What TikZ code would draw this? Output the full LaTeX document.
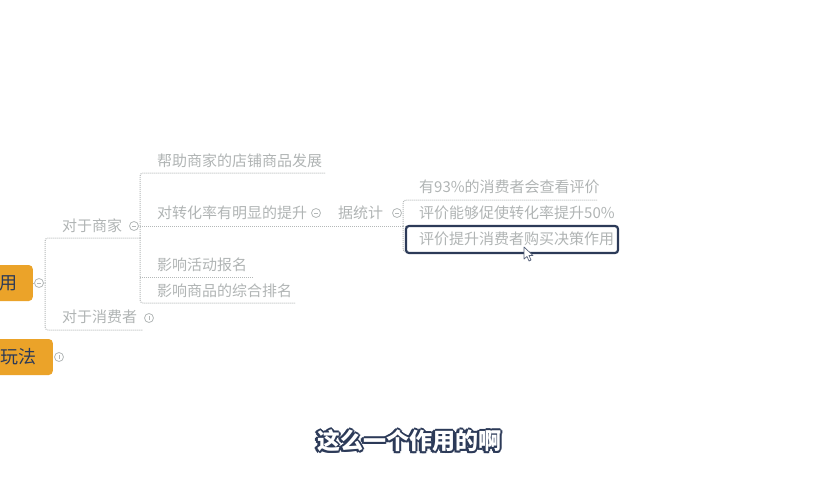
\documentclass[tikz,border=0pt]{standalone}
\usepackage{fontspec}
\usetikzlibrary{positioning,calc}
\newfontfamily\cjk{Noto Sans CJK SC}
\definecolor{mmOrange}{HTML}{EBA329}
\definecolor{mmNavy}{HTML}{2C3A58}
\definecolor{mmText}{HTML}{B0B4B4}
\definecolor{mmLine}{HTML}{B4B8B8}
\tikzset{
  topic/.style={font=\cjk\fontsize{15}{17}\selectfont, text=mmText, inner sep=0pt,
    text height=1.12em, text depth=0em, anchor=west},
  rootbox/.style={fill=mmOrange, rounded corners=4pt, font=\cjk\fontsize{18}{20}\selectfont,
    text=mmNavy, minimum height=36pt, text width=60pt, align=right, inner xsep=15pt, anchor=east},
  branch/.style={draw=mmLine, line width=1pt, densely dotted, rounded corners=3pt},
  fold/.style={circle, draw=mmLine, line width=0.8pt, minimum size=9pt, inner sep=0pt, fill=white},
  foldminus/.style={fold, path picture={
    \draw[mmLine, line width=0.8pt] ([xshift=-2.2pt]path picture bounding box.center) -- ([xshift=2.2pt]path picture bounding box.center);}},
  foldplus/.style={foldminus, path picture={
    \draw[mmLine, line width=0.8pt] ([yshift=-2.2pt]path picture bounding box.center) -- ([yshift=2.2pt]path picture bounding box.center);}},
  selframe/.style={draw=mmNavy, line width=2.2pt, rounded corners=3pt, fill=white},
  caption/.style={font=\cjk\bfseries\fontsize{23}{25}\selectfont}
}
\begin{document}
\begin{tikzpicture}[x=1pt, y=-1pt]
  \useasboundingbox (0,0) rectangle (820,480);
  \clip (0,0) rectangle (820,480);

  % root topics
  \node[rootbox] (use) at (33,283) {用};
  \node[rootbox, inner xsep=16pt] (play) at (53,357) {玩法};

  % branch lines
  \draw[branch] (45,283) |- (140,238);
  \draw[branch] (45,283) |- (143,330);
  \draw[branch] (140,238) |- (325,173);
  \draw[branch] (140,238) |- (295,303);
  \draw[branch] (140,277) -- (253,277);
  \draw[branch] (138,226) -- (403,226);
  \draw[branch] (403,226) |- (597,200);
  \draw[branch] (403,226) |- (612,252);
  \draw[branch] (403,226) -- (600,226);
  \draw[branch] (use.east) -- (45,283);

  % fold icons
  \node[foldminus] (fold0) at (39,283) {};
  \node[foldplus] (fold5) at (59,357) {};
  \node[foldminus] (fold1) at (134,226) {};
  \node[foldplus] (fold2) at (149,318) {};
  \node[foldminus] (fold3) at (316,213) {};
  \node[foldminus] (fold4) at (397,213) {};

  % level 1
  \node[topic] (merchant) at (62,226) {对于商家};
  \node[topic] (consumer) at (62,317) {对于消费者};

  % level 2
  \node[topic] (grow) at (157,161) {帮助商家的店铺商品发展};
  \node[topic] (conv) at (157,213) {对转化率有明显的提升};
  \node[topic] (event) at (157,265) {影响活动报名};
  \node[topic] (rank) at (157,291) {影响商品的综合排名};

  % level 3
  \node[topic] (stat) at (338,213) {据统计};
  \node[topic] (read) at (419,187) {有93\%的消费者会查看评价};
  \node[topic] (rate) at (419,213) {评价能够促使转化率提升50\%};
  \draw[selframe] (406,226) rectangle (618,253);
  \node[topic] (decide) at (419,239) {评价提升消费者购买决策作用};

  % mouse pointer
  \draw[fill=white, draw=mmNavy!80, line width=0.7pt, line join=round]
    (524,247) -- (524,259) -- (527,256.5) -- (529,261) -- (531,260) -- (529,255.5) -- (533,255.5) -- cycle;

  % caption, white with navy outline
  \foreach \a in {0,45,...,315}
    \node[caption, text=mmNavy] at ($(409,441)+(\a:2.2)$) {这么一个作用的啊};
  \node[caption, text=white] (subtitle) at (409,441) {这么一个作用的啊};
\end{tikzpicture}
\end{document}
